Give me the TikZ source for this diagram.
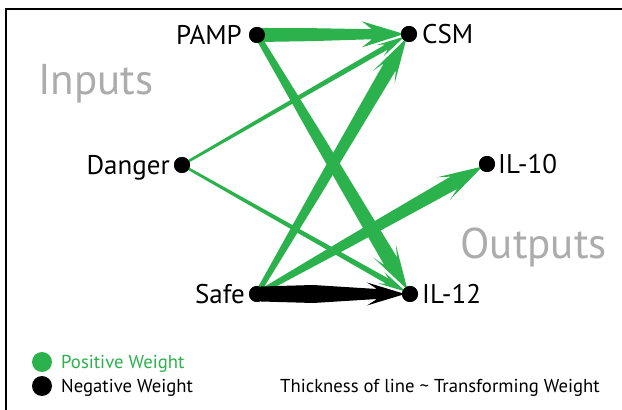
\documentclass[tikz,border=0pt]{standalone}
\usepackage{fontspec}
\setmainfont{PT Sans}
\usetikzlibrary{calc}
\definecolor{wgreen}{RGB}{43,178,76}
\definecolor{lblgray}{RGB}{172,172,172}
% #1 src, #2 tgt, #3 colour, #4 start half width, #5 mid half width, #6 neck half width,
% #7 barb half width, #8 neck distance from tip, #9 barb distance from tip
\newcommand\wtarrow[9]{%
  \coordinate (s) at ($(#1.center)!4pt!(#2.center)$);
  \coordinate (t) at ($(#2.center)!5pt!(#1.center)$);
  \coordinate (n) at ($(t)!#8!(s)$);
  \coordinate (b) at ($(t)!#9!(s)$);
  \coordinate (m) at ($(s)!0.45!(n)$);
  \fill[#3, line join=round]
    ($(s)!#4!90:(t)$) -- ($(m)!#5!90:(t)$) -- ($(n)!#6!90:(t)$) -- ($(b)!#7!90:(t)$)
    -- (t)
    -- ($(b)!#7!-90:(t)$) -- ($(n)!#6!-90:(t)$) -- ($(m)!#5!-90:(t)$) -- ($(s)!#4!-90:(t)$) -- cycle;
}
\tikzset{
  dot/.style={circle, fill=black, inner sep=0pt, minimum size=16pt},
  lbl/.style={inner sep=0pt, font=\fontsize{27}{32}\selectfont, text=black},
  big/.style={inner sep=0pt, font=\fontsize{43}{50}\selectfont, text=lblgray},
  leg/.style={inner sep=0pt, font=\fontsize{18.7}{22}\selectfont},
  frameline/.style={line width=2.5pt, draw=black}
}
\begin{document}
\begin{tikzpicture}[x=1pt,y=1pt]
\useasboundingbox (0,0) rectangle (622,410);
\fill[white] (0,0) rectangle (622,410);
\draw[frameline] (6,0) -- (6,401) -- (622,401);

% nodes (dots)
\node[dot] (pamp) at (257,375) {};
\node[dot] (csm) at (409,376) {};
\node[dot] (danger) at (182,245) {};
\node[dot] (il10) at (487,246) {};
\node[dot] (safe) at (257,116) {};
\node[dot] (il12) at (410,116) {};

% connectors (thin first)
\wtarrow{danger}{csm}{wgreen}{1.3pt}{2pt}{2.8pt}{6.5pt}{21pt}{28pt}
\wtarrow{danger}{il12}{wgreen}{1.3pt}{2pt}{2.8pt}{6.5pt}{21pt}{28pt}
\wtarrow{pamp}{il12}{wgreen}{3pt}{5.5pt}{7.5pt}{13pt}{33pt}{45pt}
\wtarrow{safe}{csm}{wgreen}{2.5pt}{5pt}{7pt}{12.5pt}{33pt}{45pt}
\wtarrow{safe}{il10}{wgreen}{2.5pt}{5pt}{7pt}{13pt}{33pt}{45pt}
\wtarrow{pamp}{csm}{wgreen}{7pt}{6.5pt}{5pt}{13pt}{32pt}{42pt}
\wtarrow{safe}{il12}{black}{7.5pt}{9pt}{5pt}{11.5pt}{28pt}{38pt}

% redraw dots on top
\foreach \d in {pamp,csm,danger,il10,safe,il12} \fill[black] (\d.center) circle (8pt);

% labels
\node[lbl, anchor=base east] (pampl) at ($(pamp.center)+(-15,-9.4)$) {PAMP};
\node[lbl, anchor=base west] (csml) at ($(csm.center)+(13,-9.4)$) {CSM};
\node[lbl, anchor=base east] (dangerl) at ($(danger.center)+(-12,-9.4)$) {Danger};
\node[lbl, anchor=base west] (il10l) at ($(il10.center)+(11,-9.4)$) {IL-10};
\node[lbl, anchor=base east] (safel) at ($(safe.center)+(-12,-9.4)$) {Safe};
\node[lbl, anchor=base west] (il12l) at ($(il12.center)+(12,-9.4)$) {IL-12};

\node[big, anchor=base west] (inputs) at (38,315) {Inputs};
\node[big, anchor=base east] (outputs) at (607,151) {Outputs};

% legend
\fill[wgreen] (42,48) circle (10pt) coordinate (gdot);
\fill[black] (42,24) circle (10pt) coordinate (bdot);
\node[leg, text=wgreen, anchor=base west] (posl) at (61,41.5) {Positive Weight};
\node[leg, text=black, anchor=base west] (negl) at (61,17.5) {Negative Weight};
\node[leg, text=black, anchor=base west] (thick) at (280,17.5) {Thickness of line {\char`\~} Transforming Weight};
\end{tikzpicture}
\end{document}
